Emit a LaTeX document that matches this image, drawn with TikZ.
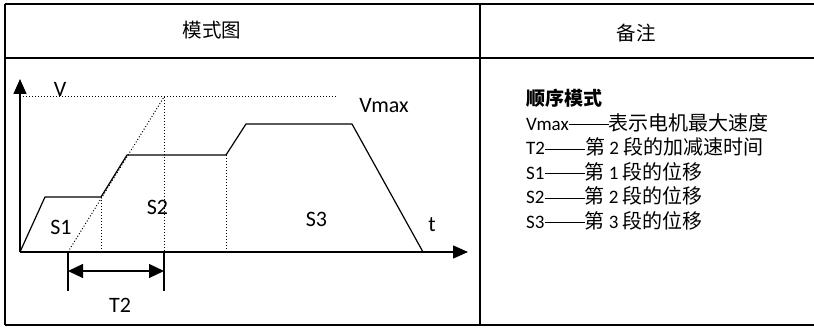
\documentclass[tikz,border=0pt]{standalone}
\usepackage{fontspec}
\setmainfont{Carlito}
\newfontfamily\cjk{Noto Sans CJK SC}
\usetikzlibrary{arrows.meta}
\newcommand{\cjt}[1]{{\fontsize{20}{24}\selectfont\cjk #1}}
\newcommand{\ddash}{\rule[5.5pt]{40pt}{0.8pt}}
\begin{document}
\begin{tikzpicture}[x=1pt,y=-1pt,
  frame/.style={line width=1.5pt},
  axis/.style={line width=1.4pt},
  prof/.style={line width=1.2pt},
  dot/.style={line width=1pt,dotted},
  glabel/.style={font=\fontsize{22}{26}\selectfont,inner sep=0pt,anchor=base},
  rtext/.style={font=\fontsize{19}{22}\selectfont,inner sep=0pt,anchor=base west},
  head/.style={font=\fontsize{19.5}{22}\selectfont\cjk,inner sep=0pt},
  tipA/.style={-{Triangle[length=15pt,width=13pt]}},
  tipB/.style={{Triangle[length=15pt,width=14pt]}-{Triangle[length=15pt,width=14pt]}}
]
\useasboundingbox (0,0) rectangle (814,328);
% table frame
\coordinate (TL) at (5,4);
\coordinate (TR) at (814,4);
\coordinate (HL) at (5,58);
\coordinate (HR) at (814,58);
\coordinate (BL) at (5,325);
\coordinate (BR) at (814,325);
\coordinate (DT) at (480,4);
\coordinate (DB) at (480,325);
\draw[frame] (TL) -- (TR);
\draw[frame] (HL) -- (HR);
\draw[frame] (BL) -- (BR);
\draw[frame] (TL) -- (BL);
\draw[frame] (DT) -- (DB);
\node[head] (h1) at (212,30) {模式图};
\node[head] (h2) at (636,33) {备注};
% axes
\coordinate (O) at (20,252);
\coordinate (Yt) at (20,79);
\coordinate (Xt) at (468,252);
\draw[axis,tipA] (O) -- (Yt);
\draw[axis,tipA] (O) -- (Xt);
% vmax dotted line
\coordinate (Vm0) at (20,97);
\coordinate (Vm1) at (337,97);
\draw[dot] (Vm0) -- (Vm1);
% profile
\coordinate (p1) at (45,197);
\coordinate (p2) at (101,197);
\coordinate (p3) at (127,155);
\coordinate (p4) at (226,155);
\coordinate (p5) at (246,124);
\coordinate (p6) at (352,124);
\coordinate (p7) at (423,252);
\draw[prof,line join=round] (O) -- (p1) -- (p2) -- (p3) -- (p4) -- (p5) -- (p6) -- (p7);
% dotted construction lines
\coordinate (q0) at (68,252);
\coordinate (q1) at (164,97);
\coordinate (b2) at (101,252);
\coordinate (b4) at (226,252);
\coordinate (b1) at (164,252);
\draw[dot] (q0) -- (q1);
\draw[dot] (q1) -- (b1);
\draw[dot] (p2) -- (b2);
\draw[dot] (p4) -- (b4);
% T2 dimension
\coordinate (d0) at (68,291);
\coordinate (d1) at (164,291);
\coordinate (a0) at (68,271);
\coordinate (a1) at (164,271);
\draw[prof] (q0) -- (d0);
\draw[prof] (b1) -- (d1);
\draw[prof,tipB] (a0) -- (a1);
% labels
\node[glabel] (lV) at (60,97) {V};
\node[glabel] (lVmax) at (384,113) {Vmax};
\node[glabel] (lS1) at (61,235) {S1};
\node[glabel] (lS2) at (157.5,215) {S2};
\node[glabel] (lS3) at (316.5,227) {S3};
\node[glabel] (lt) at (432,232) {t};
\node[glabel] (lT2) at (120,313) {T2};
% right column text
\node[rtext] (r0) at (526,106) {\cjk\bfseries 顺序模式};
\node[rtext] (r1) at (526,130.5) {Vmax\ddash\cjt{表示电机最大速度}};
\node[rtext] (r2) at (526,155) {T2\ddash\cjt{第} 2 \cjt{段的加减速时间}};
\node[rtext] (r3) at (526,179.5) {S1\ddash\cjt{第} 1 \cjt{段的位移}};
\node[rtext] (r4) at (526,204) {S2\ddash\cjt{第} 2 \cjt{段的位移}};
\node[rtext] (r5) at (526,228.5) {S3\ddash\cjt{第} 3 \cjt{段的位移}};
\end{tikzpicture}
\end{document}
